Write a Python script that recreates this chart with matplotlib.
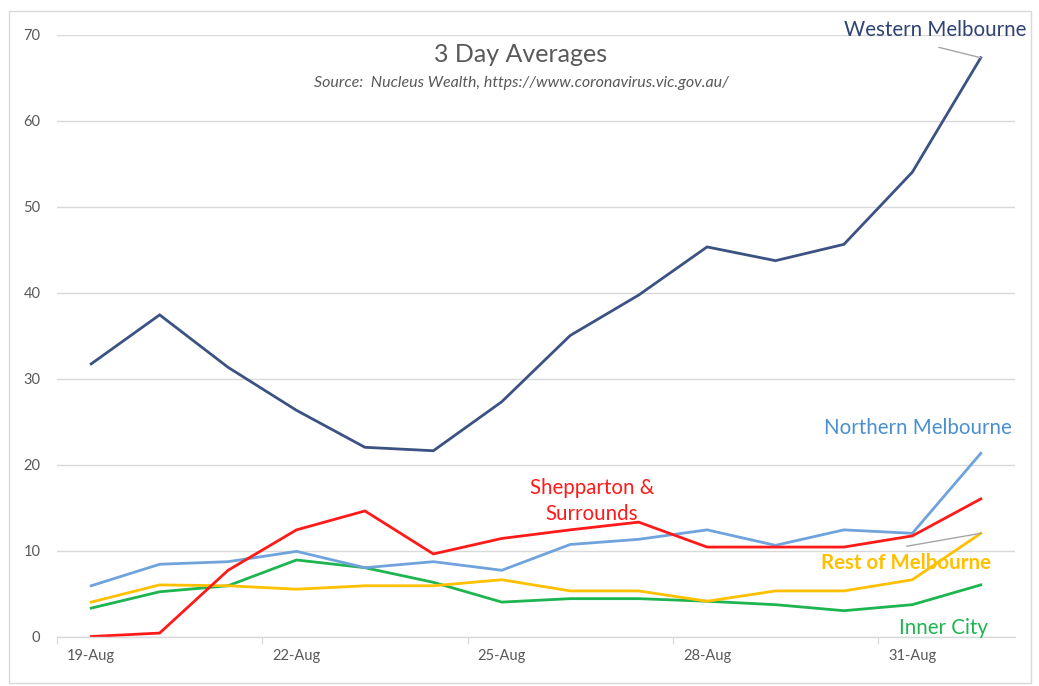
import matplotlib
matplotlib.use("Agg")
import matplotlib.pyplot as plt
from matplotlib.patches import Rectangle

dates = ["19-Aug", "20-Aug", "21-Aug", "22-Aug", "23-Aug", "24-Aug", "25-Aug",
         "26-Aug", "27-Aug", "28-Aug", "29-Aug", "30-Aug", "31-Aug", "1-Sep"]
western = [31.7, 37.4, 31.3, 26.3, 22.0, 21.6, 27.3, 35.0, 39.7, 45.3, 43.7, 45.6, 54.0, 67.3]
northern = [5.9, 8.4, 8.7, 9.9, 8.0, 8.7, 7.7, 10.7, 11.3, 12.4, 10.6, 12.4, 12.0, 21.3]
shepparton = [0.0, 0.4, 7.7, 12.4, 14.6, 9.6, 11.4, 12.4, 13.3, 10.4, 10.4, 10.4, 11.7, 16.0]
rest = [4.0, 6.0, 5.9, 5.5, 5.9, 5.9, 6.6, 5.3, 5.3, 4.1, 5.3, 5.3, 6.6, 12.0]
inner = [3.3, 5.2, 5.9, 8.9, 8.0, 6.3, 4.0, 4.4, 4.4, 4.1, 3.7, 3.0, 3.7, 6.0]
yticks = [0, 10, 20, 30, 40, 50, 60, 70]
xtick_labels = ["19-Aug", "22-Aug", "25-Aug", "28-Aug", "31-Aug"]

FONT = ["Lato", "DejaVu Sans"]
plt.rcParams['font.family'] = FONT
GRAY = "#595959"

fig = plt.figure(figsize=(10.39, 6.86), dpi=100)
fig.patches.append(Rectangle((9 / 1039, 1 - 683 / 686), 1022 / 1039, 672 / 686,
                             transform=fig.transFigure, fill=False,
                             edgecolor="#D9D9D9", linewidth=1.0))
ax = fig.add_axes([57 / 1039, 1 - 636.5 / 686, 958 / 1039, 602 / 686])

n = len(dates)
xs = [i + 0.5 for i in range(n)]
lw = 2.0
c_w, c_n, c_s, c_r, c_i = "#3B5283", "#6FA3DC", "#FF1A1A", "#FFC000", "#1DB550"
ax.plot(xs, inner, color=c_i, lw=lw, solid_joinstyle="miter")
ax.plot(xs, rest, color=c_r, lw=lw, solid_joinstyle="miter")
ax.plot(xs, northern, color=c_n, lw=lw, solid_joinstyle="miter")
ax.plot(xs, shepparton, color=c_s, lw=lw, solid_joinstyle="miter")
ax.plot(xs, western, color=c_w, lw=lw, solid_joinstyle="miter")

ax.set_xlim(0, n)
ax.set_ylim(0, 70)
ax.set_yticks(yticks)
ax.set_yticklabels([str(v) for v in yticks])
ax.yaxis.grid(True, color="#D9D9D9", linewidth=1.0)
ax.set_axisbelow(True)
ax.tick_params(axis="y", length=0, labelsize=10.5, labelcolor=GRAY, pad=12)

ax.set_xticks([0, 3, 6, 9, 12])
ax.set_xticklabels([])
ax.tick_params(axis="x", length=5, color="#D9D9D9", direction="out")
for lab in xtick_labels:
    i = dates.index(lab)
    ax.text(xs[i], -1.5, lab, ha="center", va="top", fontsize=10.5, color=GRAY)

for s in ["top", "right", "left"]:
    ax.spines[s].set_visible(False)
ax.spines["bottom"].set_color("#D9D9D9")
ax.spines["bottom"].set_linewidth(1.0)

fig.text(521 / 1039, 1 - 55 / 686, "3 Day Averages", ha="center", va="center",
         fontsize=18, color=GRAY)
fig.text(521 / 1039, 1 - 83 / 686,
         "Source:  Nucleus Wealth, https://www.coronavirus.vic.gov.au/",
         ha="center", va="center", fontsize=11.5, style="italic", color=GRAY)

# series labels
LS = 14.8
ax.text(12.83, 70.5, "Western Melbourne", ha="center", va="center", fontsize=LS,
        color="#2E4372")
ax.plot([12.89, xs[-1]], [68.5, western[-1]], color="#A6A6A6", lw=1.0)
ax.text(12.58, 24.3, "Northern Melbourne", ha="center", va="center", fontsize=LS,
        color="#4A90D0")
ax.text(7.82, 17.3, "Shepparton &", ha="center", va="center", fontsize=LS,
        color=c_s)
ax.text(7.82, 14.3, "Surrounds", ha="center", va="center", fontsize=LS,
        color=c_s)
ax.text(12.41, 8.5, "Rest of Melbourne", ha="center", va="center", fontsize=LS,
        color=c_r, fontweight="bold")
ax.plot([12.42, xs[-1]], [10.5, rest[-1]], color="#A6A6A6", lw=1.0)
ax.text(12.96, 0.95, "Inner City", ha="center", va="center", fontsize=LS,
        color="#1DB550")

fig.savefig("out.png", dpi=100)
